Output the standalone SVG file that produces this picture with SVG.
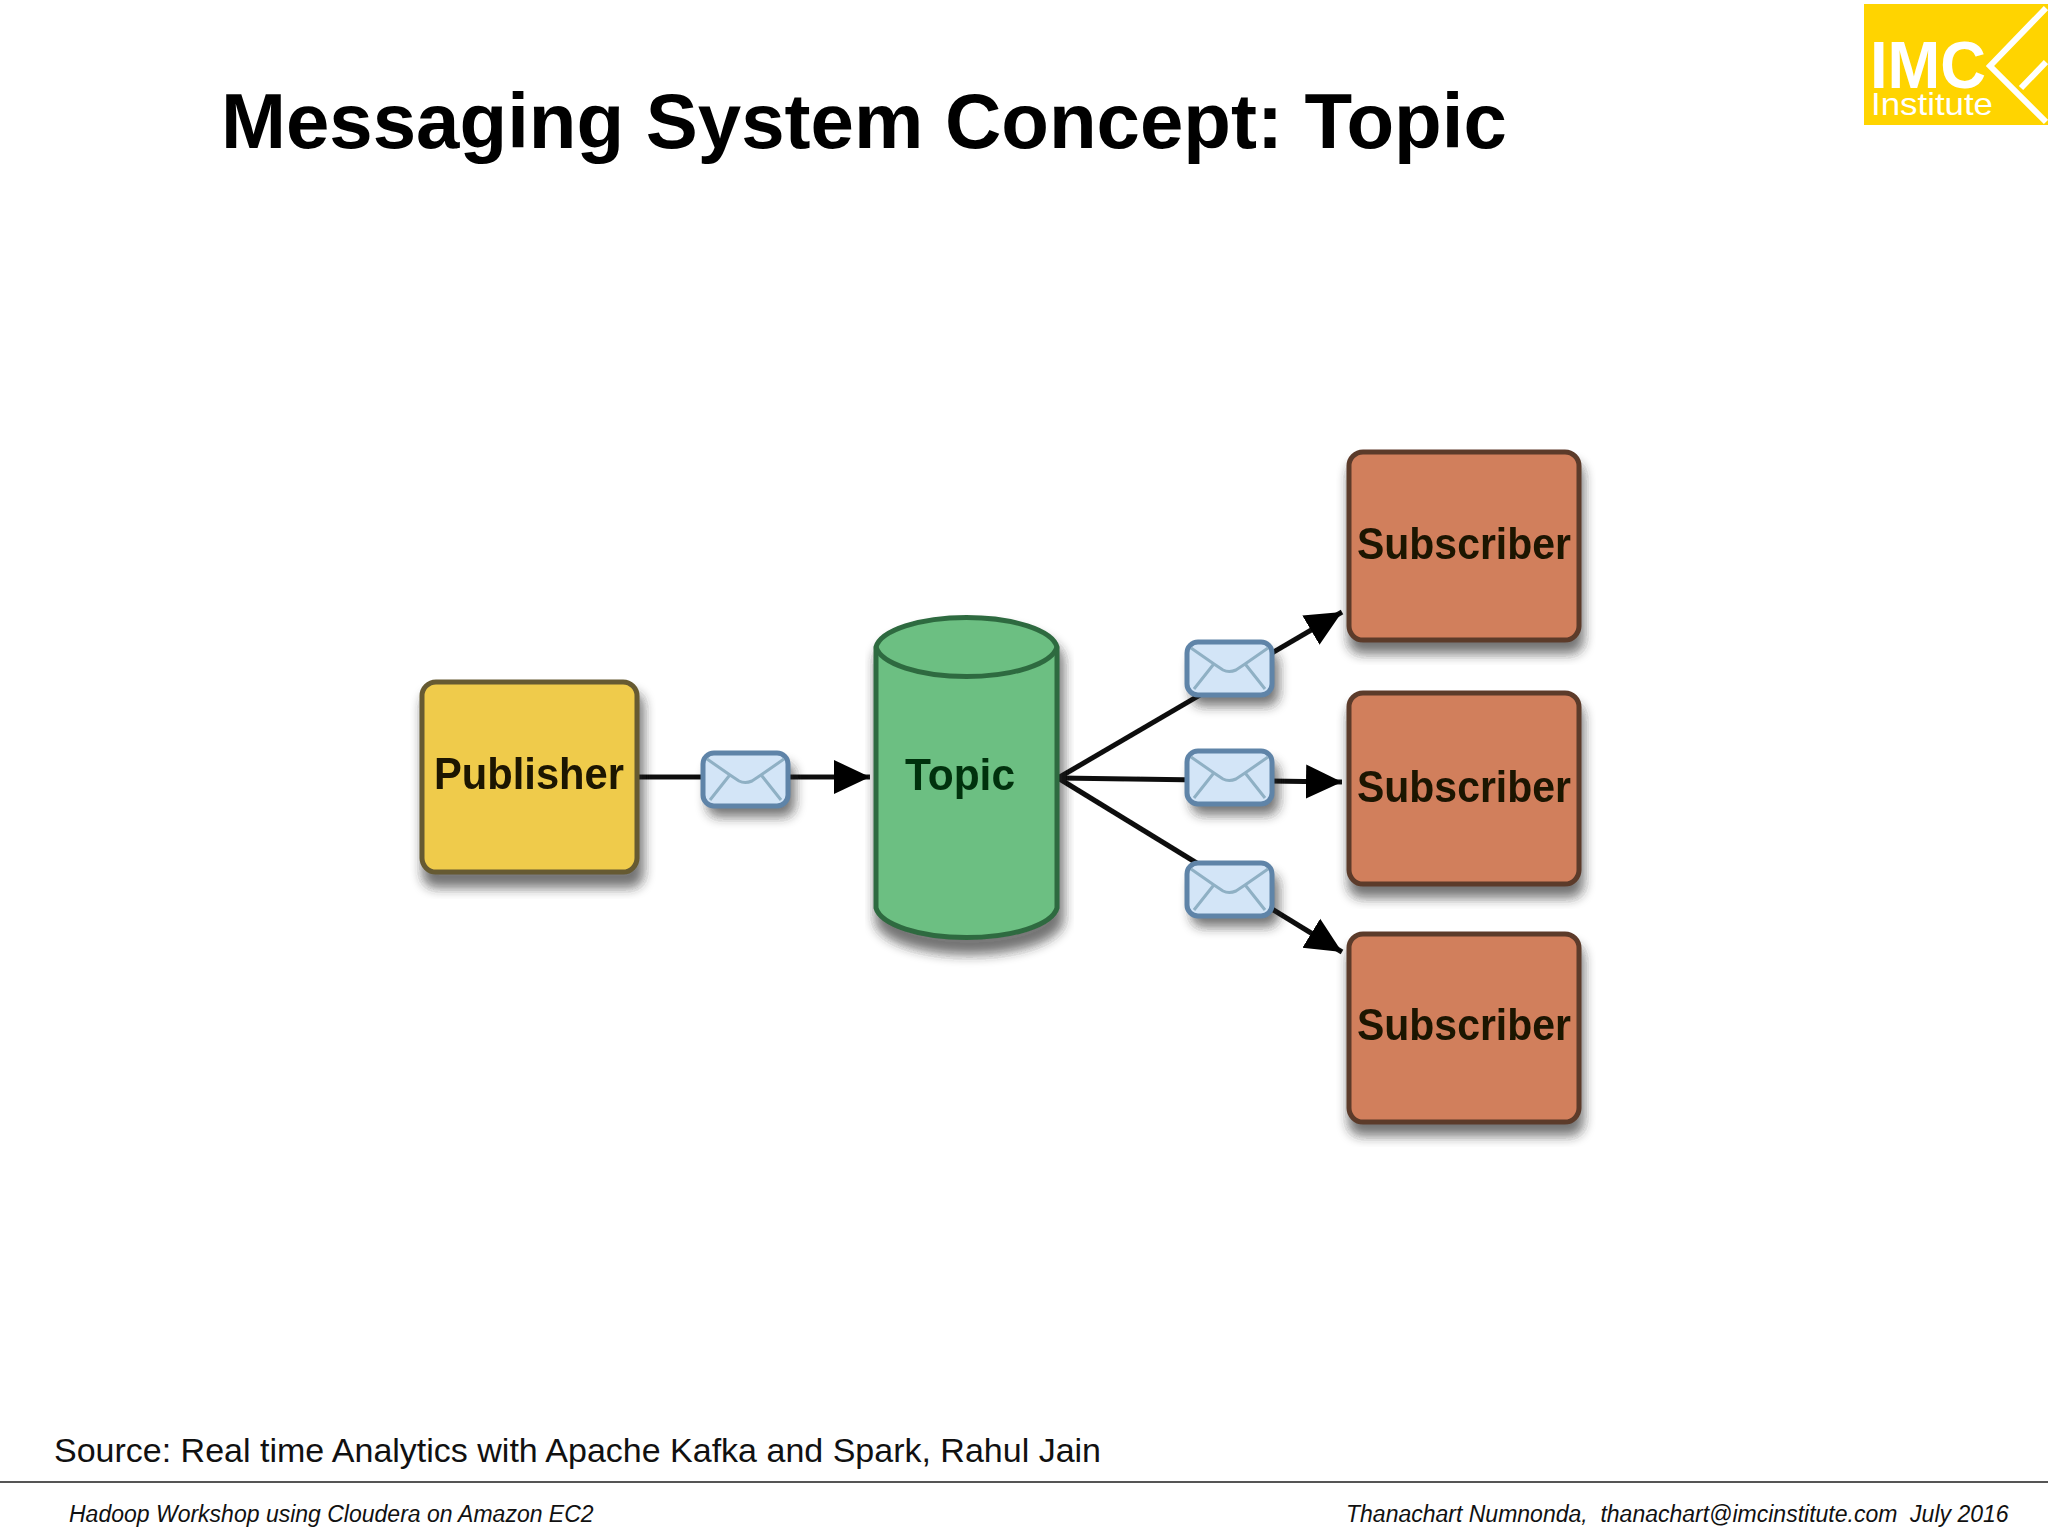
<svg xmlns="http://www.w3.org/2000/svg" width="2048" height="1536" viewBox="0 0 2048 1536">
<style>
.sans{font-family:"Liberation Sans",Arial,sans-serif}
.lbl{font-family:"Liberation Sans",Arial,sans-serif;font-weight:700;font-size:44px;text-anchor:middle;fill:#1c1206}
.foot{font-family:"Liberation Sans",Arial,sans-serif;font-style:italic;font-size:23px;fill:#111}
.conn{stroke:#111;stroke-width:5;fill:none}
.shadow{fill:#222;opacity:.62;filter:url(#bl)}
.sub{fill:#d17f5b;stroke:#5c3a2a;stroke-width:5}
.envbox{fill:#d3e5f7;stroke:#5f84a8;stroke-width:5}
.envln{fill:none;stroke:#8fb0c4;stroke-width:3}
</style>
<defs>
<filter id="bl" x="-30%" y="-30%" width="160%" height="160%"><feGaussianBlur stdDeviation="6"/></filter>
<filter id="soft" x="-5%" y="-5%" width="110%" height="110%"><feGaussianBlur stdDeviation="0.7"/></filter>
<marker id="arr" markerUnits="userSpaceOnUse" markerWidth="38" markerHeight="36" refX="36" refY="18" orient="auto"><path d="M0 1L36 18L0 35z" fill="#050505"/></marker>
<g id="env">
<rect class="shadow" x="4" y="10" width="88" height="54" rx="12"/>
<rect class="envbox" x="0" y="0" width="85" height="53" rx="11"/>
<path class="envln" d="M4 6L27 22L36 28Q42 31 49 28L58 22L81 6M26 23L7 47M59 23L78 47"/>
</g>
</defs>
<rect width="2048" height="1536" fill="#fff"/>
<text class="sans" x="221" y="148" font-size="78" font-weight="700" fill="#000">Messaging System Concept: Topic</text>
<g id="logo">
<rect x="1864" y="4" width="184" height="121" fill="#ffd400"/>
<path d="M2046 8L1990 66L2046 122M2021 88L2046 62" fill="none" stroke="#fff" stroke-width="6"/>
<text class="sans" x="1870" y="88" font-size="66" font-weight="700" fill="#fff" textLength="116" lengthAdjust="spacingAndGlyphs">IMC</text>
<text class="sans" x="1871" y="115" font-size="32" fill="#fff" textLength="122" lengthAdjust="spacingAndGlyphs">Institute</text>
</g>
<g id="connectors" filter="url(#soft)">
<path class="conn" d="M637 777H870" marker-end="url(#arr)"/>
<path class="conn" d="M1058 778L1342 612" marker-end="url(#arr)"/>
<path class="conn" d="M1058 778L1342 782" marker-end="url(#arr)"/>
<path class="conn" d="M1058 778L1342 952" marker-end="url(#arr)"/>
</g>
<g id="publisher" filter="url(#soft)">
<rect class="shadow" x="422" y="692" width="222" height="196" rx="14"/>
<rect x="422" y="682" width="215" height="190" rx="14" fill="#efcb4b" stroke="#665a30" stroke-width="5"/>
<text class="lbl" x="529" y="789" textLength="190" lengthAdjust="spacingAndGlyphs">Publisher</text>
</g>
<g id="topic" filter="url(#soft)">
<path class="shadow" d="M875 660A92 34 0 0 1 1064 660V920A92 34 0 0 1 875 920z"/>
<path d="M876 647A91 33 0 0 1 1057 647V908A91 33 0 0 1 876 908z" fill="#6cbf82" stroke="#2f6b40" stroke-width="5"/>
<path d="M876 647A91 33 0 0 0 1057 647" fill="none" stroke="#2f6b40" stroke-width="5"/>
<text class="lbl" x="960" y="790" fill="#06300f" style="fill:#06300f" textLength="110" lengthAdjust="spacingAndGlyphs">Topic</text>
</g>
<g id="subscriber1" filter="url(#soft)">
<rect class="shadow" x="1348" y="462" width="236" height="192" rx="14"/>
<rect class="sub" x="1349" y="452" width="230" height="188" rx="14"/>
<text class="lbl" x="1464" y="559" textLength="214" lengthAdjust="spacingAndGlyphs">Subscriber</text>
</g>
<g id="subscriber2" filter="url(#soft)">
<rect class="shadow" x="1348" y="703" width="236" height="195" rx="14"/>
<rect class="sub" x="1349" y="693" width="230" height="191" rx="14"/>
<text class="lbl" x="1464" y="802" textLength="214" lengthAdjust="spacingAndGlyphs">Subscriber</text>
</g>
<g id="subscriber3" filter="url(#soft)">
<rect class="shadow" x="1348" y="944" width="236" height="192" rx="14"/>
<rect class="sub" x="1349" y="934" width="230" height="188" rx="14"/>
<text class="lbl" x="1464" y="1040" textLength="214" lengthAdjust="spacingAndGlyphs">Subscriber</text>
</g>
<g id="messages" filter="url(#soft)">
<use href="#env" x="703" y="753"/>
<use href="#env" x="1187" y="642"/>
<use href="#env" x="1187" y="751"/>
<use href="#env" x="1187" y="863"/>
</g>
<text class="sans" x="54" y="1462" font-size="34" fill="#111">Source: Real time Analytics with Apache Kafka and Spark, Rahul Jain</text>
<line x1="0" y1="1482" x2="2048" y2="1482" stroke="#555" stroke-width="2"/>
<text class="foot" x="69" y="1522">Hadoop Workshop using Cloudera on Amazon EC2</text>
<text class="foot" x="1346" y="1522" xml:space="preserve">Thanachart Numnonda,  thanachart@imcinstitute.com  July 2016</text>
</svg>
